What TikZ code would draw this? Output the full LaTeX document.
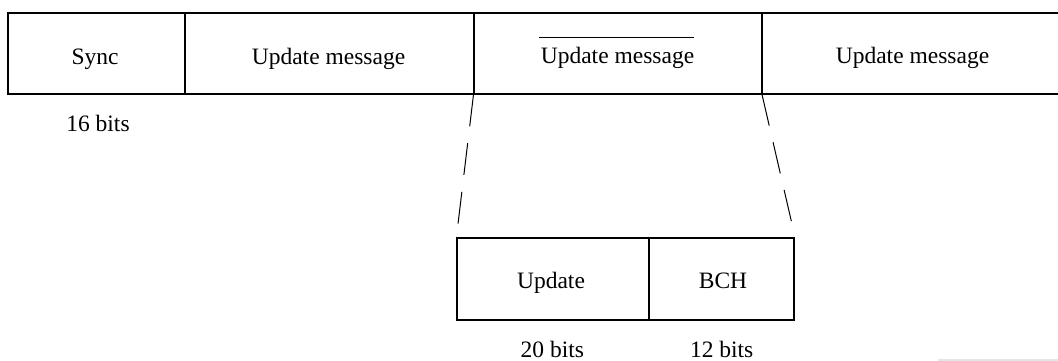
\documentclass[tikz,border=0pt]{standalone}
\usepackage{fontspec}
\setmainfont{Liberation Serif}
\begin{document}
\begin{tikzpicture}[x=1pt,y=-1pt,
  cell/.style={draw=black, line width=2pt, inner sep=0pt, outer sep=0pt, anchor=north west},
  lbl/.style={anchor=base, inner sep=0pt, font=\fontsize{23.5}{28}\selectfont},
  zoomline/.style={draw=black, line width=1pt, dash pattern=on 32pt off 17pt}]
\useasboundingbox (0,0) rectangle (1058,361);
\begin{scope}
\clip (0,0) rectangle (1058,361);
% faint bar at lower right
\fill[black!10] (938,358.5) rectangle (1058,361);
% main frame
\node[cell, minimum width=176.7pt, minimum height=81pt] (sync) at (8.3,13.5) {};
\node[cell, minimum width=288.5pt, minimum height=81pt] (um1) at (185,13.5) {};
\node[cell, minimum width=288.5pt, minimum height=81pt] (um2) at (473.5,13.5) {};
\node[cell, minimum width=301pt, minimum height=81pt] (um3) at (762,13.5) {};
% labels of the frame
\node[lbl] (tsync) at (95,65) {Sync};
\node[lbl] (tum1) at (328.5,65) {Update message};
\node[lbl] (tum2) at (617.5,63.3) {Update message};
\node[lbl] (tum3) at (912.5,63.3) {Update message};
\draw[line width=1pt] (tum2.north west |- 0,37.3) ++(-1.5,0) coordinate (olA) -- (tum2.north east |- 0,37.3) coordinate (olB);
\node[lbl] (t16) at (98,131.5) {16 bits};
% expanded message
\node[cell, minimum width=192.8pt, minimum height=81.7pt] (upd) at (456.5,238.3) {};
\node[cell, minimum width=145pt, minimum height=81.7pt] (bch) at (649.3,238.3) {};
\node[lbl] (tupd) at (551,288.3) {Update};
\node[lbl] (tbch) at (723,288.3) {BCH};
\node[lbl] (t20) at (552.3,357) {20 bits};
\node[lbl] (t12) at (721.7,357) {12 bits};
% zoom lines
\coordinate (zl) at (458,224);
\coordinate (zr) at (792,224);
\draw[zoomline] (um2.south west) -- (zl);
\draw[zoomline] (um2.south east) -- (zr);
\end{scope}
\end{tikzpicture}
\end{document}
